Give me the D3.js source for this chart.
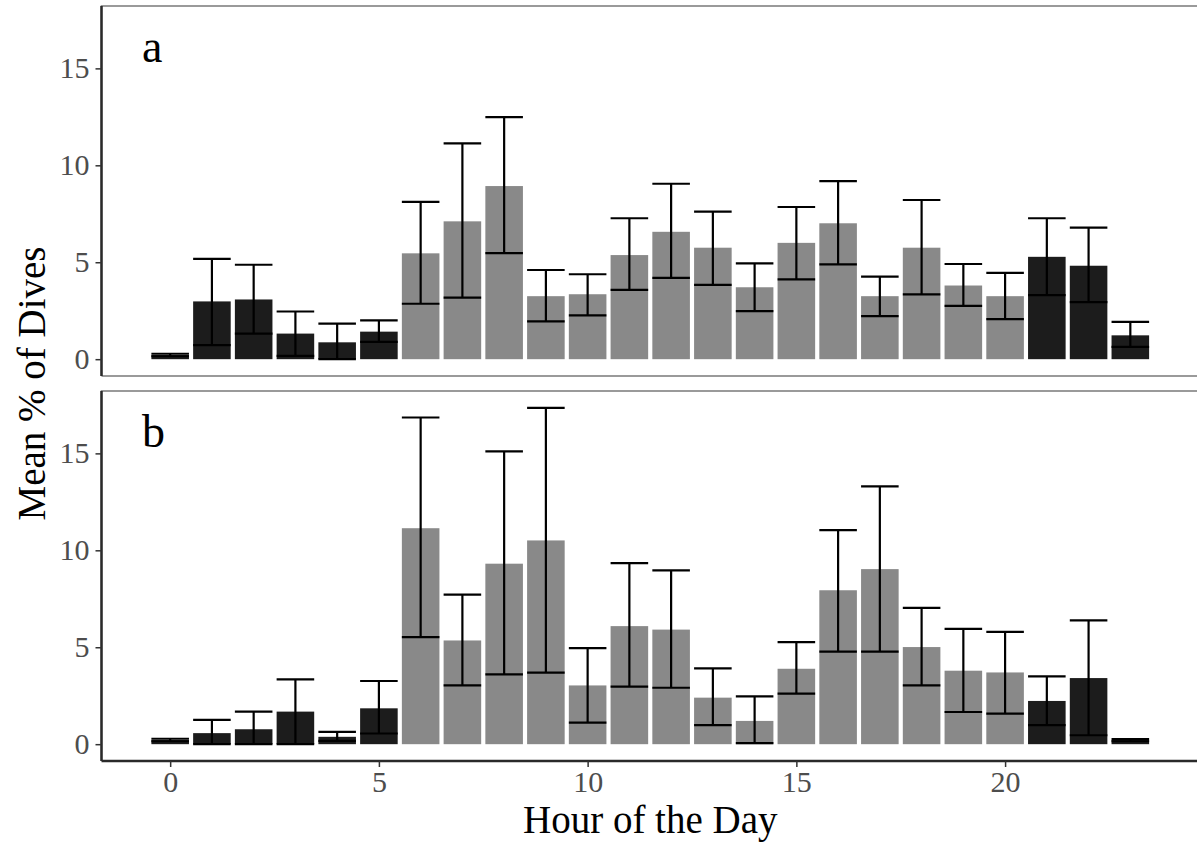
<!DOCTYPE html>
<html>
<head>
<meta charset="utf-8">
<script src="https://cdn.jsdelivr.net/npm/d3@7"></script>
<style>
	body { margin: 0; background: #fff; }
	svg { display: block; }
	text { font-family: "Liberation Serif", "Times New Roman", serif; }
</style>
</head>
<body>
<div id="chart"></div>
<script>
'use strict';

// Órák (0-23).
var hours = d3.range(0, 24);

// Éjszakai órák (sötét oszlopok).
var nightHours = [0, 1, 2, 3, 4, 5, 21, 22, 23];

// a panel: átlag, alsó és felső hibahatár.
var meanA = [0.22, 2.98, 3.08, 1.32, 0.87, 1.42, 5.46, 7.11, 8.93, 3.25, 3.35, 5.37,
	6.57, 5.75, 3.71, 6.0, 7.01, 3.25, 5.75, 3.80, 3.25, 5.28, 4.82, 1.23];
var lowA = [0.15, 0.72, 1.32, 0.17, 0.0, 0.89, 2.86, 3.18, 5.47, 1.95, 2.26, 3.57,
	4.19, 3.83, 2.48, 4.12, 4.89, 2.22, 3.34, 2.75, 2.07, 3.30, 2.94, 0.63];
var highA = [0.28, 5.17, 4.87, 2.46, 1.83, 2.0, 8.11, 11.13, 12.49, 4.6, 4.38, 7.27,
	9.05, 7.61, 4.94, 7.85, 9.18, 4.26, 8.21, 4.91, 4.45, 7.27, 6.79, 1.92];

// b panel: átlag, alsó és felső hibahatár.
var meanB = [0.22, 0.57, 0.77, 1.68, 0.38, 1.85, 11.14, 5.35, 9.31, 10.51, 3.03, 6.09,
	5.91, 2.40, 1.2, 3.89, 7.94, 9.03, 5.01, 3.79, 3.70, 2.23, 3.41, 0.22];
var lowB = [0.15, 0.0, 0.0, 0.0, 0.17, 0.55, 5.52, 3.03, 3.6, 3.69, 1.11, 2.97,
	2.91, 0.98, 0.05, 2.61, 4.77, 4.77, 3.03, 1.66, 1.58, 0.98, 0.46, 0.15];
var highB = [0.28, 1.25, 1.68, 3.34, 0.63, 3.26, 16.85, 7.71, 15.1, 17.35, 4.95, 9.34,
	8.97, 3.91, 2.47, 5.26, 11.04, 13.3, 7.03, 5.95, 5.79, 3.50, 6.39, 0.26];

var yTicks = [0, 5, 10, 15];
var xTicks = [0, 5, 10, 15, 20];
var panelTags = ["a", "b"];

var W = 1197, H = 843;
var plotLeft = 101.5, plotRight = 1199;
var panelTops = [6, 391];
var panelHeight = 370;

var svg = d3.select("#chart").append("svg")
		.attr("width", W)
		.attr("height", H);

// Közös x skála (ggplot-szerű 5%-os kiterjesztés).
var barWidth = 0.9;
var xMin = -barWidth / 2, xMax = 23 + barWidth / 2;
var xPad = (xMax - xMin) * 0.05;
var x = d3.scaleLinear()
		.domain([xMin - xPad, xMax + xPad])
		.range([plotLeft, plotRight]);

// Közös y skála mindkét panelnek.
var yMax = d3.max(highA.concat(highB));
var yPad = yMax * 0.05;

var panels = [
	{mean: meanA, low: lowA, high: highA},
	{mean: meanB, low: lowB, high: highB}
];

panels.forEach(function(p, i) {
	var top = panelTops[i];
	var bottom = top + panelHeight;
	var isLast = (i === panels.length - 1);

	var y = d3.scaleLinear()
			.domain([-yPad, yMax + yPad])
			.range([bottom, top]);

	var g = svg.append("g");

	var rows = hours.map(function(h) {
		return {hour: h, mean: p.mean[h], low: p.low[h], high: p.high[h]};
	});

	// Oszlopok.
	g.selectAll("rect.bar").data(rows)
			.enter().append("rect")
			.attr("class", "bar")
			.attr("x", function(d) { return x(d.hour - barWidth / 2); })
			.attr("width", x(barWidth) - x(0))
			.attr("y", function(d) { return y(d.mean); })
			.attr("height", function(d) { return y(0) - y(d.mean); })
			.attr("fill", function(d) { return nightHours.indexOf(d.hour) >= 0 ? "#1c1c1c" : "#898989"; });

	// Hibasávok.
	var eb = g.selectAll("g.err").data(rows)
			.enter().append("g")
			.attr("class", "err")
			.attr("stroke", "#000")
			.attr("stroke-width", 2.2);
	eb.append("line")
			.attr("x1", function(d) { return x(d.hour); })
			.attr("x2", function(d) { return x(d.hour); })
			.attr("y1", function(d) { return y(d.low); })
			.attr("y2", function(d) { return y(d.high); });
	eb.append("line")
			.attr("x1", function(d) { return x(d.hour - barWidth / 2); })
			.attr("x2", function(d) { return x(d.hour + barWidth / 2); })
			.attr("y1", function(d) { return y(d.high); })
			.attr("y2", function(d) { return y(d.high); });
	eb.append("line")
			.attr("x1", function(d) { return x(d.hour - barWidth / 2); })
			.attr("x2", function(d) { return x(d.hour + barWidth / 2); })
			.attr("y1", function(d) { return y(d.low); })
			.attr("y2", function(d) { return y(d.low); });

	// Panel kerete (szürke).
	g.append("path")
			.attr("d", "M" + plotLeft + "," + bottom + "V" + top + "H" + (W + 5) + (isLast ? "" : "M" + plotLeft + "," + bottom + "H" + (W + 5)))
			.attr("fill", "none")
			.attr("stroke", "#7a7a7a")
			.attr("stroke-width", 1.5);

	// Y tengely.
	var yAxis = g.append("g")
			.attr("transform", "translate(" + plotLeft + ",0)")
			.call(d3.axisLeft(y).tickValues(yTicks).tickSize(6).tickPadding(6));
	yAxis.select(".domain")
			.attr("d", "M0," + top + "V" + bottom)
			.attr("stroke", "#2a2a2a")
			.attr("stroke-width", 2.5);
	yAxis.selectAll(".tick line").attr("stroke", "#333").attr("stroke-width", 1.5);
	yAxis.selectAll(".tick text")
			.attr("font-size", 30)
			.attr("fill", "#4d4d4d")
			.style("font-family", "'Liberation Serif', serif");

	// X tengely csak az alsó panelen.
	if (isLast) {
		var xAxis = g.append("g")
				.attr("transform", "translate(0," + bottom + ")")
				.call(d3.axisBottom(x).tickValues(xTicks).tickSize(6).tickPadding(4));
		xAxis.select(".domain")
				.attr("d", "M" + plotLeft + ",0H" + (W + 5))
				.attr("stroke", "#2a2a2a")
				.attr("stroke-width", 2.5);
		xAxis.selectAll(".tick line").attr("stroke", "#333").attr("stroke-width", 1.5);
		xAxis.selectAll(".tick text")
				.attr("font-size", 30)
				.attr("fill", "#4d4d4d")
				.style("font-family", "'Liberation Serif', serif");
	}

	// Panel betűjele.
	g.append("text")
			.attr("x", 142)
			.attr("y", top + 56)
			.attr("font-size", 46)
			.attr("fill", "#000")
			.text(panelTags[i]);
});

// Tengelycímek.
svg.append("text")
		.attr("x", (plotLeft + W) / 2 + 1)
		.attr("y", 833)
		.attr("text-anchor", "middle")
		.attr("font-size", 39)
		.attr("fill", "#000")
		.text("Hour of the Day");

svg.append("text")
		.attr("transform", "translate(45," + ((panelTops[0] + panelTops[1] + panelHeight) / 2) + ") rotate(-90)")
		.attr("text-anchor", "middle")
		.attr("font-size", 39)
		.attr("fill", "#000")
		.text("Mean % of Dives");
</script>
</body>
</html>
